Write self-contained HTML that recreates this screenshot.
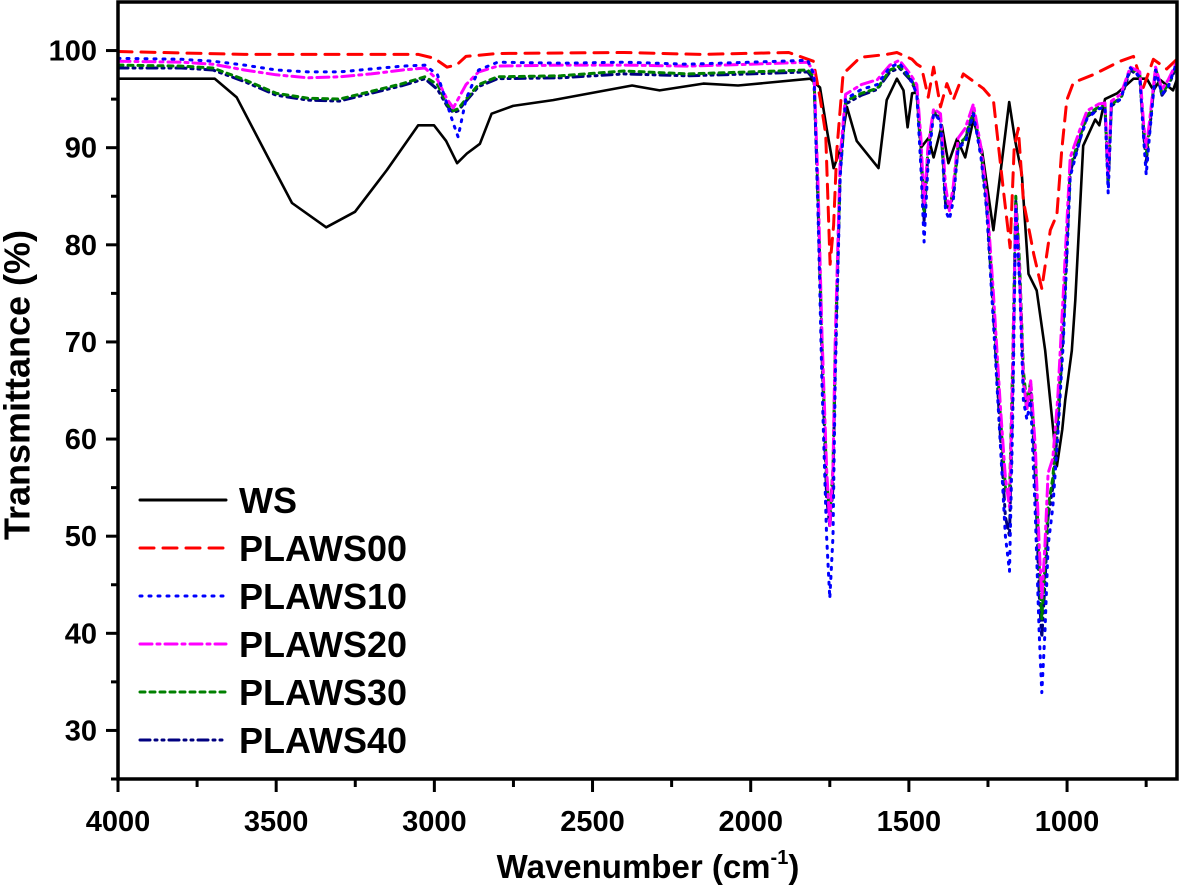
<!DOCTYPE html>
<html><head><meta charset="utf-8"><style>
html,body{margin:0;padding:0;background:#fff;}
svg{display:block;font-family:"Liberation Sans",Arial,sans-serif;}
</style></head><body>
<svg id="chart" width="1180" height="893" viewBox="0 0 1180 893">
<g id="plot"></g>
<g id="axes"></g>
<g id="legend"></g>
<text x="20" y="385" transform="rotate(-90 20 385)" text-anchor="middle" dominant-baseline="middle" font-size="36" font-weight="bold">Transmittance (%)</text>
<text x="648" y="878" text-anchor="middle" font-size="33" font-weight="bold">Wavenumber (cm<tspan font-size="20" dy="-14">-1</tspan><tspan dy="14">)</tspan></text>
</svg>
<script>
const xTicks = [4000,3500,3000,2500,2000,1500,1000];
const yTicks = [30,40,50,60,70,80,90,100];
const seriesNames = ["WS","PLAWS00","PLAWS10","PLAWS20","PLAWS30","PLAWS40"];

const wnWS = [4000,3694,3625,3526,3450,3342,3251,3150,3051,3001,2963,2928,2897,2856,2819,2751,2625,2375,2288,2150,2040,1812,1781,1760,1738,1715,1696,1665,1596,1570,1538,1517,1504,1490,1475,1462,1438,1422,1396,1375,1348,1322,1296,1269,1233,1183,1164,1143,1122,1096,1069,1050,1032,1015,1006,985,974,949,911,898,880,842,790,748,727,706,665,653];
const tWS = [97.1,97.1,95.2,89,84.3,81.8,83.4,87.7,92.3,92.3,90.7,88.4,89.4,90.4,93.5,94.3,94.9,96.4,95.9,96.6,96.4,97.1,96.2,92,87.9,90,94.2,90.7,87.9,94.9,97.1,95.9,92.1,95.6,95.7,90,91,89,92.3,88.4,90.9,89,92.9,89.7,81.5,94.7,90.7,87.3,77,75.3,69.1,63,57.2,61,64,69.1,74.3,90.2,92.9,92.3,95,95.6,97.1,97.1,95.9,97,95.9,97];

const wnP00 = [4000,3600,3300,3050,3000,2960,2930,2900,2800,2400,2160,1880,1802,1780,1763,1749,1738,1728,1708,1654,1570,1538,1490,1475,1460,1439,1422,1400,1380,1360,1328,1265,1233,1202,1180,1167,1154,1138,1117,1105,1080,1053,1032,1017,1001,980,918,832,790,759,727,685,653];
const tP00 = [99.9,99.6,99.6,99.6,99.2,98.3,98.5,99.4,99.7,99.8,99.6,99.8,98.9,95,91.4,78,82,89.7,97.6,99.3,99.6,99.8,99.1,98.6,98.3,95.2,98.3,94.2,96.6,94.9,97.6,96.1,94.9,85.8,79.7,90,92,84.5,81,79,75.5,81.5,83.1,89.7,94.9,96.7,97.5,98.9,99.4,96.2,99.1,98.1,99.1];

const wnBlend = [4000,3800,3700,3600,3500,3400,3300,3200,3100,3030,
2990,2960,2940,2925,2900,2860,2800,2600,2400,2200,
2000,1820,1800,1787,1775,1760,1750,1740,1733,1717,
1700,1650,1600,1560,1530,1496,1475,1462,1452,1440,
1422,1400,1384,1372,1360,1344,1322,1296,1272,1254,
1233,1210,1195,1182,1172,1162,1150,1138,1127,1115,
1100,1088,1080,1070,1060,1045,1030,1012,990,958,
937,900,880,870,860,830,800,770,758,750,
740,720,700,680,653];
const tP10 = [99.2,99.1,98.9,98.5,98.0,97.8,97.8,98.1,98.4,98.5,
97.5,94.5,92.5,91.1,95,98,98.8,98.7,98.8,98.6,
98.8,99.0,97.5,83,66,50,43.6,50,66,87,
95,96,96.5,98.3,98.7,97.2,95.5,88,80.3,88,
93.5,92.8,83.5,82.6,84.5,90,90.5,93.5,89,83.5,
72,59,50,46.4,62,84,76,64,62,64,
52,40,33.9,40,49,53,60,70,87,91,
93,94,94.2,85.3,94.5,95,98.2,97.3,91,87.2,
91,98,95.5,96.3,98.8];
const tP20 = [98.9,98.8,98.6,98.0,97.5,97.2,97.3,97.6,98.0,98.2,
97,95,94.1,95,96.5,97.8,98.4,98.5,98.5,98.4,
98.6,98.8,97.8,86,71,57,51,57,70,89,
95.5,96.5,97,98.5,99,97.6,96.5,91,84,90,
94,93.5,86,83.5,86,91,92,94.5,90,85,
75,63,56,53,67,84,77,66,63,66,
59,49,43.5,49,56.5,58,64,75,89,92,
93.8,94.5,94.6,87,94.8,95.5,98.3,97.8,92.5,90,
92.5,98.3,96,97,98.8];
const tP30 = [98.5,98.4,98.2,97.0,95.6,95.1,95.0,95.8,96.6,97.3,
96.5,94.5,93.8,94.0,95.0,96.5,97.3,97.4,97.9,97.6,
97.8,98.0,97.3,85,70,56,52,57,69,88,
94.8,95.6,96.1,98.0,98.4,97.2,95.9,90,83.5,89.7,
93.8,93.1,84.5,84,85.5,90.3,91,93.8,89.7,84.5,
74,62,55,54,68,85,78,67,63.5,66,
58,47,41.5,47,53,56,62,72,88,91.3,
93.4,94.2,94.4,86.5,94.5,95.1,98.2,97.5,92,89.3,
92,98.2,95.6,96.5,98.6];
const tP40 = [98.2,98.2,98.0,96.8,95.4,94.9,94.8,95.6,96.4,97.1,
96,94.3,93.6,93.8,94.8,96.3,97.1,97.2,97.6,97.4,
97.6,97.8,97,84,69,54,51,55,68,87.5,
94.5,95.4,96,97.8,98.2,97,95.7,89.5,82.5,89.5,
93.6,92.9,84.2,83.6,85.2,90,90.8,93.6,89.5,84,
73,60,52,50,65,84.5,77,66,63,65.5,
56,44,39.6,45,52,55,61,71,87.5,91,
93.2,94,94.2,86,94.3,95,98,97.3,91.5,88.5,
91.5,98,95.4,96.3,98.5];

const X0=118, X1=1177, Y0=779, Y1=2;
const WMAX=4000, WMIN=652.5, TMIN=25, TMAX=105;
function xs(w){return X0+(WMAX-w)/(WMAX-WMIN)*(X1-X0);}
function ys(t){return Y0-(t-TMIN)/(TMAX-TMIN)*(Y0-Y1);}
const NS="http://www.w3.org/2000/svg";
function mk(tag,attrs,parent){const e=document.createElementNS(NS,tag);for(const k in attrs)e.setAttribute(k,attrs[k]);parent.appendChild(e);return e;}

const styles=[
 {c:"#000000",d:"",w:2.6},
 {c:"#ff0000",d:"14 9",w:3},
 {c:"#0000ff",d:"2 7",w:3},
 {c:"#ff00ff",d:"12 5 3 5",w:3},
 {c:"#008000",d:"5 5",w:3},
 {c:"#000080",d:"10 5 2 5 2 5",w:3}
];
const seriesW=[wnWS,wnP00,wnBlend,wnBlend,wnBlend,wnBlend];
const seriesT=[tWS,tP00,tP10,tP20,tP30,tP40];
const plot=document.getElementById('plot');
const clip=mk('clipPath',{id:'cp'},mk('defs',{},plot));
mk('rect',{x:X0,y:Y1,width:X1-X0,height:Y0-Y1},clip);
const g=mk('g',{'clip-path':'url(#cp)'},plot);
const order=[0,1,5,4,3,2];
order.forEach(i=>{
  const pts=seriesW[i].map((w,j)=>xs(w).toFixed(1)+','+ys(seriesT[i][j]).toFixed(1)).join(' ');
  const p=mk('polyline',{points:pts,fill:'none',stroke:styles[i].c,'stroke-width':styles[i].w,'stroke-linejoin':'round','stroke-linecap':'round'},g);
  if(styles[i].d)p.setAttribute('stroke-dasharray',styles[i].d);
  
  
});

const axes=document.getElementById('axes');
const frame=mk('rect',{x:X0,y:Y1,width:X1-X0,height:Y0-Y1,fill:'none',stroke:'#000','stroke-width':3.5},axes);


xTicks.forEach(v=>{
  const x=xs(v);
  mk('line',{x1:x,y1:Y0,x2:x,y2:Y0+13,stroke:'#000','stroke-width':3},axes);
  const t=mk('text',{x:x,y:831,'text-anchor':'middle','font-size':29,'font-weight':'bold'},axes);
  t.textContent=v;
  
  
});
xTicks.forEach(v=>{
  const m=v-250; if(m<WMIN)return;
  const x=xs(m);
  mk('line',{x1:x,y1:Y0,x2:x,y2:Y0+8,stroke:'#000','stroke-width':3},axes);
});
yTicks.forEach(v=>{
  const y=ys(v);
  mk('line',{x1:X0-12,y1:y,x2:X0,y2:y,stroke:'#000','stroke-width':3},axes);
  mk('line',{x1:X0-7,y1:ys(v-5),x2:X0,y2:ys(v-5),stroke:'#000','stroke-width':3},axes);
  const t=mk('text',{x:97,y:y+10,'text-anchor':'end','font-size':29,'font-weight':'bold'},axes);
  t.textContent=v;
  
  
});

const legend=document.getElementById('legend');
seriesNames.forEach((n,i)=>{
  const y=500+i*48;
  const item=mk('g',{},legend);
  
  
  const l=mk('line',{x1:140,y1:y,x2:226,y2:y,stroke:styles[i].c,'stroke-width':3,'stroke-linecap':'round'},item);
  if(styles[i].d)l.setAttribute('stroke-dasharray',styles[i].d);
  const t=mk('text',{x:239,y:y+13,'font-size':36,'font-weight':'bold'},item);
  t.textContent=n;
});
</script>
</body></html>
